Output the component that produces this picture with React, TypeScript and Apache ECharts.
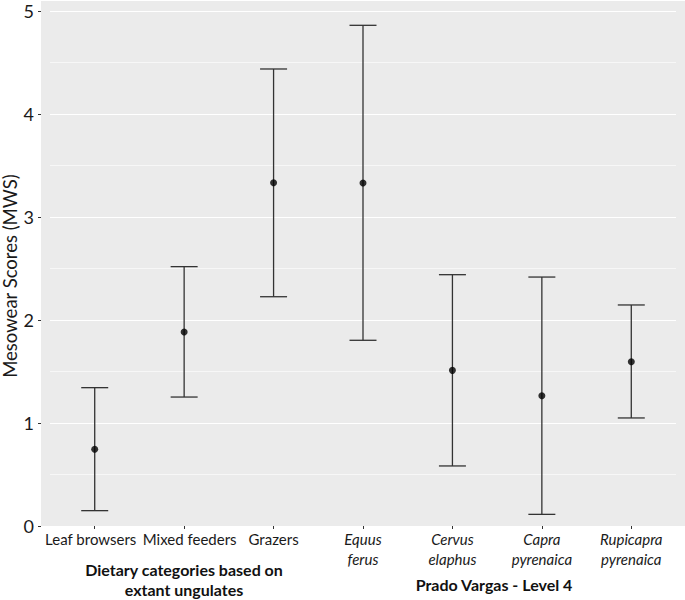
import React, { useEffect, useRef } from "react";
import * as echarts from "echarts";

const categories = [
  "Leaf browsers",
  "Mixed feeders",
  "Grazers",
  "Equus ferus",
  "Cervus elaphus",
  "Capra pyrenaica",
  "Rupicapra pyrenaica",
];
const italicFlags = [false, false, false, true, true, true, true];
const means = [0.745, 1.883, 3.333, 3.33, 1.511, 1.265, 1.595];
const lowers = [0.149, 1.252, 2.226, 1.803, 0.583, 0.113, 1.049];
const uppers = [1.343, 2.518, 4.437, 4.861, 2.44, 2.417, 2.146];
const yTitle = "Mesowear Scores (MWS)";
const groupTitle1 = ["Dietary categories based on", "extant ungulates"];
const groupTitle2 = "Prado Vargas - Level 4";

const FONT = "Lato, 'Open Sans', sans-serif";
const TXT = "#1a1a1a";
// small horizontal nudges of the category labels, as in the reference
const labelPads: number[][] = [
  [0, 8, 0, 0],
  [0, 0, 0, 11],
  [0, 0, 0, 0],
  [0, 0, 0, 0],
  [0, 0, 0, 0],
  [0, 0, 0, 0],
  [0, 0, 0, 0],
];

export default function App() {
  const ref = useRef<HTMLDivElement>(null);
  useEffect(() => {
    if (!ref.current) return;
    const chart = echarts.init(ref.current, null, { renderer: "svg" });
    const errData = categories.map((_, i) => [i, lowers[i], uppers[i]]);
    const titleStyle = {
      fontFamily: FONT,
      fontSize: 16,
      fontWeight: "bold",
      fill: "#111",
      align: "center",
      verticalAlign: "middle",
    };
    const option: any = {
      animation: false,
      textStyle: { fontFamily: FONT },
      grid: { left: 50, right: 9, top: 11, bottom: 74, containLabel: false },
      graphic: [
        {
          type: "rect",
          z: -10,
          silent: true,
          shape: { x: 41, y: 1, width: 644, height: 525 },
          style: { fill: "#EBEBEB" },
        },
        {
          type: "text",
          x: 10,
          y: 276,
          rotation: Math.PI / 2,
          style: {
            text: yTitle,
            fontFamily: FONT,
            fontSize: 18.5,
            fill: TXT,
            align: "center",
            verticalAlign: "middle",
          },
        },
        { type: "text", x: 184, y: 569, style: { ...titleStyle, text: groupTitle1[0] } },
        { type: "text", x: 184, y: 589, style: { ...titleStyle, text: groupTitle1[1] } },
        { type: "text", x: 494, y: 584, style: { ...titleStyle, text: groupTitle2 } },
      ],
      xAxis: {
        type: "category",
        data: categories.map((c, i) => ({ value: c, textStyle: { padding: labelPads[i] } })),
        boundaryGap: true,
        axisLine: { show: false },
        axisTick: {
          show: true,
          alignWithLabel: true,
          length: 3,
          lineStyle: { color: "#333", width: 1 },
        },
        splitLine: { show: false },
        axisLabel: {
          interval: 0,
          margin: 3,
          fontFamily: FONT,
          fontSize: 15,
          color: TXT,
          lineHeight: 20,
          formatter: (v: string, i: number) => {
            if (italicFlags[i]) {
              return v
                .split(" ")
                .map((w) => `{i|${w}}`)
                .join("\n");
            }
            return `{n|${v}}`;
          },
          rich: {
            i: { fontStyle: "italic", fontSize: 15, lineHeight: 20, fontFamily: FONT, color: TXT },
            n: { fontSize: 15, lineHeight: 20, fontFamily: FONT, color: TXT },
          },
        },
      },
      yAxis: {
        type: "value",
        min: 0,
        max: 5,
        interval: 1,
        offset: 9,
        axisLine: { show: false },
        axisTick: { show: true, length: 3, lineStyle: { color: "#333", width: 1 } },
        axisLabel: {
          fontFamily: FONT,
          fontSize: 18,
          color: TXT,
          margin: 7,
        },
        splitLine: { show: true, lineStyle: { color: "#ffffff", width: 1.2 } },
        minorTick: { show: false, splitNumber: 2 },
        minorSplitLine: { show: true, lineStyle: { color: "#F7F7F7", width: 1 } },
      },
      series: [
        {
          type: "custom",
          data: errData,
          z: 3,
          renderItem: (params: any, api: any) => {
            const x = api.value(0);
            const lo = api.coord([x, api.value(1)]);
            const hi = api.coord([x, api.value(2)]);
            const hw = 13.5;
            const style = { stroke: "#333333", lineWidth: 1.3 };
            return {
              type: "group",
              children: [
                { type: "line", shape: { x1: lo[0], y1: lo[1], x2: hi[0], y2: hi[1] }, style },
                { type: "line", shape: { x1: lo[0] - hw, y1: lo[1], x2: lo[0] + hw, y2: lo[1] }, style },
                { type: "line", shape: { x1: hi[0] - hw, y1: hi[1], x2: hi[0] + hw, y2: hi[1] }, style },
              ],
            };
          },
        },
        {
          type: "scatter",
          data: means,
          symbol: "circle",
          symbolSize: 7,
          z: 4,
          itemStyle: { color: "#000" },
        },
      ],
    };
    chart.setOption(option);
    return () => chart.dispose();
  }, []);
  return (
    <div
      ref={ref}
      style={{ position: "absolute", left: 0, top: 0, width: 685, height: 600 }}
    />
  );
}
